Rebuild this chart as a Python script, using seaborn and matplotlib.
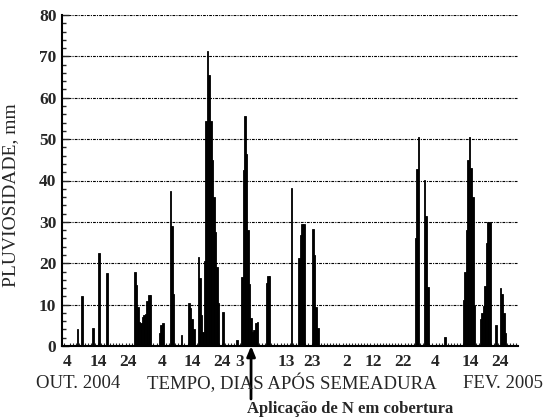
import numpy as np
import pandas as pd
import seaborn as sns
import matplotlib.pyplot as plt
from matplotlib.ticker import MultipleLocator

# day index counted from 1 Oct 2004 (half-day resolution)
rain_day = [6.5, 8.0, 11.5, 13.5, 16.0,
            25.0, 25.5, 26.0, 26.5, 27.0, 27.5, 28.0, 28.5, 29.0, 29.5, 30.0,
            33.0, 33.5, 34.0, 36.5, 37.0, 37.5, 40.0,
            42.5, 43.0, 43.5, 44.0,
            45.5, 46.0, 46.5, 47.0, 47.5, 48.0, 48.5, 49.0, 49.5, 50.0, 50.5, 51.0, 51.5, 52.0,
            53.5, 58.0,
            59.5, 60.0, 60.5, 61.0, 61.5, 62.0, 62.5, 63.0, 63.5, 64.0, 64.5,
            67.5, 68.0, 68.5, 75.5,
            78.0, 78.5, 79.0, 79.5, 82.5, 83.0, 83.5, 84.0,
            115.5, 116.0, 116.5, 118.5, 119.0, 119.5, 125.0,
            131.0, 131.5, 132.0, 132.5, 133.0, 133.5, 134.0, 134.5,
            136.5, 137.0, 137.5, 138.0, 138.5, 139.0, 139.5,
            141.5, 143.0, 143.5, 144.0, 144.5]
rain_mm = [4.2, 12.0, 4.3, 22.5, 17.6,
           17.8, 14.8, 9.5, 5.8, 5.5, 7.1, 7.5, 7.8, 10.8, 12.4, 12.4,
           3.1, 5.1, 5.5, 37.5, 29.0, 12.5, 2.7,
           10.3, 9.1, 6.5, 4.0,
           21.5, 16.5, 7.5, 3.5, 20.5, 54.5, 71.3, 65.5, 54.5, 45.0, 36.0, 27.5, 19.0, 10.5,
           8.2, 1.5,
           16.7, 42.5, 55.5, 46.4, 28.0, 15.0, 6.8, 3.5, 3.8, 5.5, 5.9,
           15.2, 16.9, 16.9, 38.3,
           21.2, 26.8, 29.5, 29.5, 28.2, 22.0, 9.5, 4.3,
           26.0, 42.7, 50.5, 40.2, 31.3, 14.3, 2.2,
           11.0, 18.0, 28.0, 45.0, 50.5, 43.0, 36.0, 10.0,
           6.5, 8.0, 9.7, 14.5, 25.0, 30.0, 30.0,
           5.0, 14.1, 12.5, 8.0, 3.2]

tick_pos = [3.0, 13.1, 22.8, 33.7, 43.4, 53.1, 58.9, 73.8, 82.1, 93.4, 101.8, 111.5, 121.8, 133.1, 142.8]
tick_labels = ['4', '14', '24', '4', '14', '24', '3', '13', '23', '2', '12', '22', '4', '14', '24']

df = pd.DataFrame({'dia': rain_day, 'mm': rain_mm})

sns.set_style("ticks")
plt.rcParams['font.family'] = ['Liberation Serif', 'DejaVu Serif']

fig = plt.figure(figsize=(5.45, 4.2), dpi=100)
ax = fig.add_axes([62/545, 1-346/420, (518-62)/545, (346-15)/420])

sns.barplot(data=df, x='dia', y='mm', native_scale=True, color='black', saturation=1,
            width=1.0, errorbar=None, linewidth=0.6, edgecolor='black', ax=ax)

ax.set_xlim(1.5, 148.6)
ax.set_ylim(0, 80)

ax.set_axisbelow(True)
ax.yaxis.grid(True, linestyle=(0, (2.5, 1, 1, 1)), color='black', linewidth=0.8)
ax.xaxis.grid(False)

ax.set_xticks(tick_pos)
ax.set_xticklabels(tick_labels, fontweight='bold', fontsize=12.5)
ax.xaxis.set_minor_locator(MultipleLocator(1))
ax.tick_params(axis='x', which='major', length=0, pad=6)
ax.tick_params(axis='x', which='minor', direction='in', length=2.5, width=0.8)

ax.set_yticks(range(0, 81, 10))
ax.set_yticklabels([str(v) for v in range(0, 81, 10)], fontweight='bold', fontsize=12.5)
ax.yaxis.set_minor_locator(MultipleLocator(2))
ax.tick_params(axis='y', which='major', direction='in', length=5, width=1, pad=4)
ax.tick_params(axis='y', which='minor', direction='in', length=3, width=1)

for s in ['top', 'right']:
    ax.spines[s].set_visible(False)
for s in ['left', 'bottom']:
    ax.spines[s].set_linewidth(1.5)
    ax.spines[s].set_color('black')

ax.set_xlabel('')
ax.set_ylabel('PLUVIOSIDADE, mm', fontsize=14)
ax.yaxis.set_label_coords(-0.094, 0.456)

fig.text(36/545, 1-383/420, 'OUT. 2004', fontsize=13.5, ha='left', va='center')
fig.text(292/545, 1-383/420, 'TEMPO, DIAS APÓS SEMEADURA', fontsize=13.5, ha='center', va='center')
fig.text(543/545, 1-383/420, 'FEV. 2005', fontsize=13.5, ha='right', va='center')

ax.annotate('', xy=(62.5, 0), xycoords='data', xytext=(251/545, 1-399/420), textcoords='figure fraction',
            arrowprops=dict(arrowstyle='-|>,head_width=0.25,head_length=0.6', color='black', lw=2,
                            shrinkA=0, shrinkB=0), annotation_clip=False)
fig.text(247/545, 1-409/420, 'Aplicação de N em cobertura', fontsize=12, fontweight='bold',
         ha='left', va='center')

plt.savefig('out.png', dpi=100)
